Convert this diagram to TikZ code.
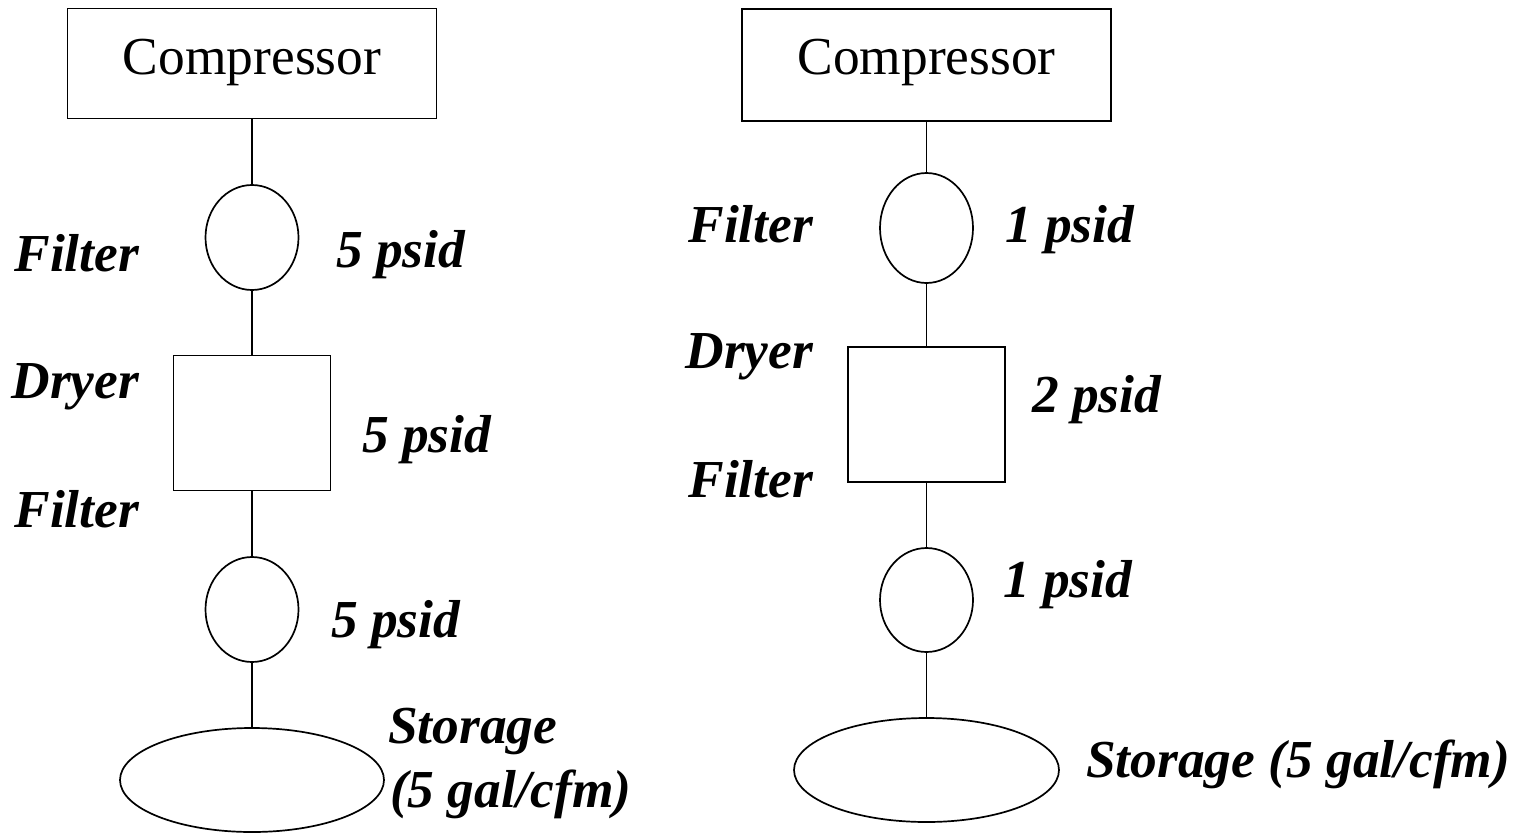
\documentclass[tikz,border=0pt]{standalone}
\usepackage{fontspec}
\setmainfont{Liberation Serif}
\usetikzlibrary{shapes.geometric}
\begin{document}
\begin{tikzpicture}[x=0.5pt,y=-0.5pt,
  every node/.style={inner sep=0pt, outer sep=0pt},
  unit/.style={draw=black, line width=0.85pt, fill=white},
  compbox/.style={unit, rectangle, minimum width=184.5pt, minimum height=55pt},
  dryerbox/.style={unit, rectangle, minimum width=78.5pt, minimum height=67.5pt},
  filterunit/.style={unit, ellipse, minimum width=46.5pt, minimum height=52.5pt},
  tankunit/.style={unit, ellipse, minimum width=132pt, minimum height=52pt},
  pipe/.style={line width=0.85pt},
  plain/.style={font=\fontsize{26.7}{32}\selectfont},
  tag/.style={font=\fontsize{26.7}{32}\selectfont\bfseries\itshape}]
\useasboundingbox (0,0) rectangle (1514,835);

% ---- first train ----
\node[compbox]    (c1) at (252,63.5) {};
\node[plain, anchor=base] (c1t) at (252,74) {Compressor};
\node[filterunit] (f1) at (252,237.5) {};
\node[dryerbox]   (d1) at (252,423) {};
\node[filterunit] (g1) at (252,609.5) {};
\node[tankunit]   (s1) at (252,780) {};
\draw[pipe] (c1.south) -- (f1.north);
\draw[pipe] (f1.south) -- (d1.north);
\draw[pipe] (d1.south) -- (g1.north);
\draw[pipe] (g1.south) -- (s1.north);

\node[tag, anchor=base east] (l1a) at (139,271) {Filter};
\node[tag, anchor=base west] (p1a) at (336,267) {5 psid};
\node[tag, anchor=base east] (l1b) at (139,398) {Dryer};
\node[tag, anchor=base west] (p1b) at (362,452) {5 psid};
\node[tag, anchor=base east] (l1c) at (139,527) {Filter};
\node[tag, anchor=base west] (p1c) at (331,637) {5 psid};
\node[tag, anchor=base west] (s1a) at (388,743) {Storage};
\node[tag, anchor=base west] (s1b) at (390,807) {(5 gal/cfm)};

% ---- second train ----
\node[compbox, minimum height=56pt] (c2) at (926.5,65) {};
\node[plain, anchor=base] (c2t) at (926.5,74) {Compressor};
\node[filterunit, minimum height=55pt] (f2) at (926.5,228) {};
\node[dryerbox]   (d2) at (926.5,414.5) {};
\node[filterunit, minimum height=52pt] (g2) at (926.5,600) {};
\node[tankunit, minimum width=132.5pt] (s2) at (926.5,770) {};
\draw[pipe] (c2.south) -- (f2.north);
\draw[pipe] (f2.south) -- (d2.north);
\draw[pipe] (d2.south) -- (g2.north);
\draw[pipe] (g2.south) -- (s2.north);

\node[tag, anchor=base east] (l2a) at (813,242) {Filter};
\node[tag, anchor=base west] (p2a) at (1005,242) {1 psid};
\node[tag, anchor=base east] (l2b) at (813,368) {Dryer};
\node[tag, anchor=base west] (p2b) at (1032,412) {2 psid};
\node[tag, anchor=base east] (l2c) at (813,497) {Filter};
\node[tag, anchor=base west] (p2c) at (1003,597) {1 psid};
\node[tag, anchor=base west] (s2a) at (1086,777) {Storage (5 gal/cfm)};
\end{tikzpicture}
\end{document}
